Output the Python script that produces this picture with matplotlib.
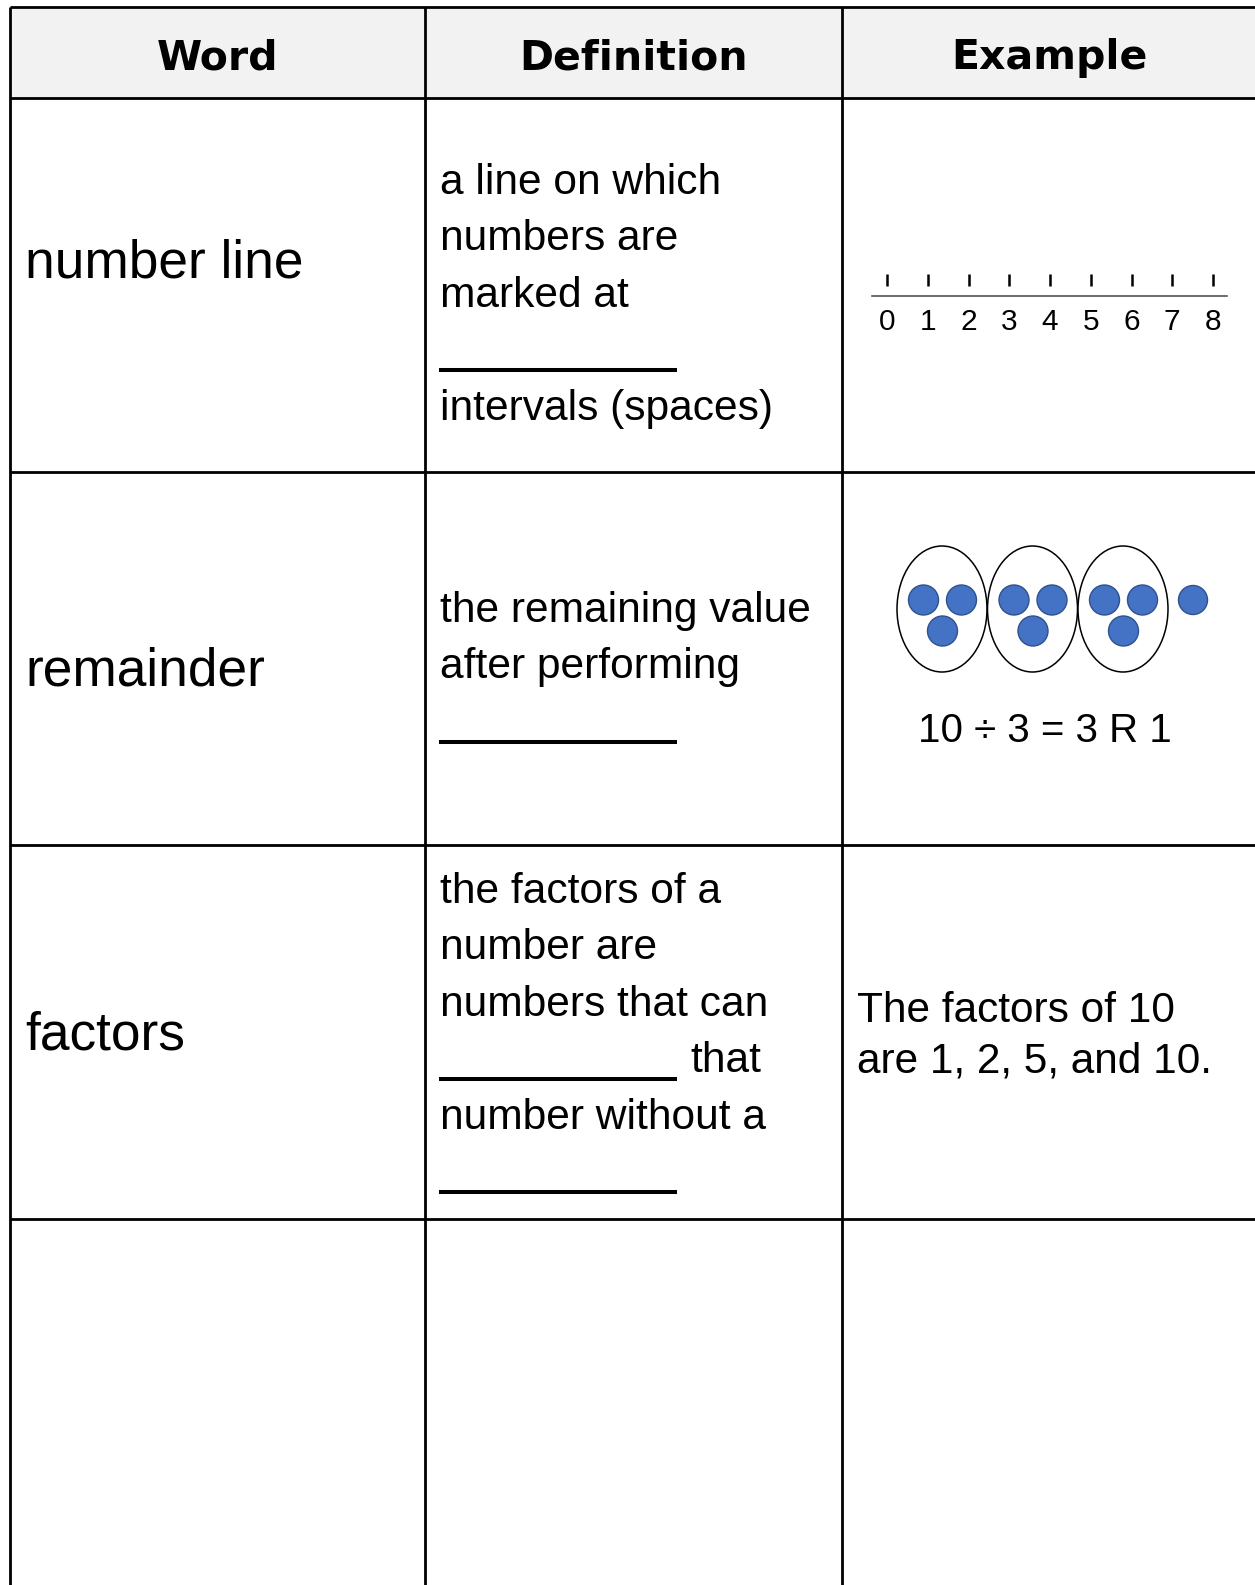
"""
Vocabulary table: word / definition / example, with a number line and a
grouped-dots picture for 10 / 3.
"""
import matplotlib.pyplot as plt
from matplotlib.patches import Ellipse, Circle, Rectangle

# ---- data ----
headers = ["Word", "Definition", "Example"]
words = ["number line", "remainder", "factors", ""]
# "_" marks a fill-in blank at the start of a line
definitions = [
    ["a line on which", "numbers are", "marked at", "_", "intervals (spaces)"],
    ["the remaining value", "after performing", "_"],
    ["the factors of a", "number are", "numbers that can", "_ that",
     "number without a", "_"],
    [],
]
factor_example = ["The factors of 10", "are 1, 2, 5, and 10."]
number_line_ticks = [0, 1, 2, 3, 4, 5, 6, 7, 8]
dividend = 10
divisor = 3

# ---- layout (pixels, y downwards) ----
W, H = 1255, 1585
col_x = [10, 425, 842, 1260]
row_y = [7, 98, 472, 845, 1219, 1600]
word_y = [262, 670, 1034]
def_first_y = [181, 609, 890]
line_gap = 56.4
pad = 15
body = ['Liberation Sans', 'Arial', 'DejaVu Sans']

fig = plt.figure(figsize=(W / 100, H / 100), dpi=100)
ax = fig.add_axes([0, 0, 1, 1])
ax.set_xlim(0, W)
ax.set_ylim(H, 0)
ax.axis('off')

# header band + grid
ax.add_patch(Rectangle((col_x[0], row_y[0]), col_x[-1] - col_x[0], row_y[1] - row_y[0],
                       facecolor='#f2f2f2', edgecolor='none', zorder=0))
for y in row_y[:-1]:
    ax.plot([col_x[0], col_x[-1]], [y, y], color='black', lw=2, solid_capstyle='butt')
for x in col_x[:-1]:
    ax.plot([x, x], [row_y[0], row_y[-1]], color='black', lw=2, solid_capstyle='butt')

for i, h in enumerate(headers):
    cx = (col_x[i] + col_x[i + 1]) / 2 if i < 2 else 1049
    ax.text(cx, 69, h, ha='center', va='baseline', fontsize=29.5,
            fontweight='bold', family='DejaVu Sans')

# word column
for w, y in zip(words, word_y):
    ax.text(col_x[0] + pad, y + 16, w, ha='left', va='baseline',
            fontsize=38.3, family=body)

# definition column
for lines, y0 in zip(definitions, def_first_y):
    for j, line in enumerate(lines):
        yc = y0 + j * line_gap
        x0 = col_x[1] + pad
        if line.startswith("_"):
            ax.plot([x0 - 1, 677], [yc + 20, yc + 20], color='black', lw=2.9,
                    solid_capstyle='butt')
            rest = line[1:].strip()
            if rest:
                ax.text(690, yc + 13, rest, ha='left', va='baseline',
                        fontsize=30.6, family=body)
        else:
            ax.text(x0, yc + 13, line, ha='left', va='baseline',
                    fontsize=30.6, family=body)

# example: number line
nl_x0, nl_step, nl_y = 887, 40.75, 296
ax.plot([872, 1227], [nl_y, nl_y], color='#444444', lw=1.1)
for v in number_line_ticks:
    x = nl_x0 + v * nl_step
    ax.plot([x, x], [274, 286], color='black', lw=1.8, solid_capstyle='butt')
    ax.text(x, 330, str(v), ha='center', va='baseline', fontsize=21.5, family=body)

# example: remainder groups
quotient, rem = divmod(dividend, divisor)
group_cx = [942, 1032.5, 1123]
dot_y = 609
dot_offsets = [(-18.5, -9), (19.5, -9), (0.5, 22)]
for g in range(quotient):
    cx = group_cx[g]
    ax.add_patch(Ellipse((cx, dot_y), 90, 126, facecolor='white',
                         edgecolor='black', lw=1.1, zorder=2))
    for dx, dy in dot_offsets[:divisor]:
        ax.add_patch(Circle((cx + dx, dot_y + dy), 15, facecolor='#4472C4',
                            edgecolor='#2F528F', lw=1, zorder=3))
for r in range(rem):
    ax.add_patch(Circle((1193 + r * 38, dot_y - 9), 14.5, facecolor='#4472C4',
                        edgecolor='#2F528F', lw=1, zorder=3))
ax.text(1045, 742, f"{dividend} \u00f7 {divisor} = {quotient} R {rem}",
        ha='center', va='baseline', fontsize=29, family=body)

# example: factors
for j, line in enumerate(factor_example):
    ax.text(col_x[2] + pad, 1009 + j * 50 + 13, line, ha='left', va='baseline',
            fontsize=30.5, family=body)

fig.savefig("out.png", dpi=100)
